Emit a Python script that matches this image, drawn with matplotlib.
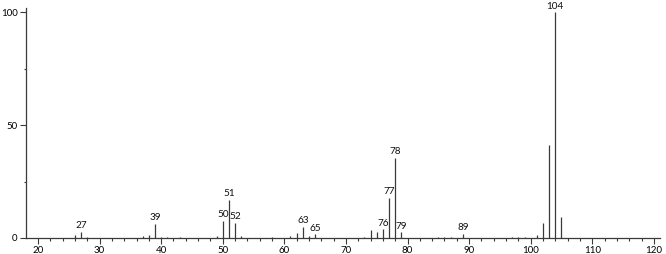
import matplotlib
matplotlib.use("Agg")
import matplotlib.pyplot as plt
from matplotlib.ticker import MultipleLocator

# m/z values and relative intensities
mz = [26, 27, 28, 37, 38, 39, 40, 41, 43, 49, 50, 51, 52, 53, 58, 61, 62, 63, 64, 65,
      73, 74, 75, 76, 77, 78, 79, 85, 86, 87, 89, 97, 98, 99, 101, 102, 103, 104, 105]
intensity = [1.3, 2.8, 0.3, 0.8, 1.2, 6.4, 0.3, 0.3, 0.3, 0.7, 7.5, 17.0, 6.8, 0.8, 0.3,
             0.7, 2.1, 5.0, 1.0, 1.6, 0.6, 3.5, 2.5, 3.8, 17.7, 35.4, 2.5, 0.3, 0.5, 0.4,
             1.8, 0.3, 0.5, 0.3, 1.3, 6.6, 41.0, 100.0, 9.3]

# peaks that get a label above them
labelled = [27, 39, 50, 51, 52, 63, 65, 76, 77, 78, 79, 89, 104]

col = '#3a3a3a'
plt.rcParams['font.family'] = ['Lato', 'DejaVu Sans']

fig = plt.figure(figsize=(6.66, 2.54), dpi=100)
ax = fig.add_axes([0.039, 0.063, 0.952, 0.907])

ax.vlines(mz, 0, intensity, color=col, linewidth=0.9)

for m, h in zip(mz, intensity):
    if m in labelled:
        ax.text(m, h + 0.7, str(m), ha='center', va='bottom', fontsize=7.2, color='#111111')

ax.set_xlim(18.05, 121)
ax.set_ylim(0, 102)

ax.xaxis.set_major_locator(MultipleLocator(10))
ax.xaxis.set_minor_locator(MultipleLocator(2))
ax.yaxis.set_major_locator(MultipleLocator(50))
ax.yaxis.set_minor_locator(MultipleLocator(25))

for side in ['top', 'right']:
    ax.spines[side].set_visible(False)
for side in ['left', 'bottom']:
    ax.spines[side].set_color(col)
    ax.spines[side].set_linewidth(0.9)

ax.tick_params(axis='both', which='major', length=4, width=0.8, color=col,
               labelsize=7, pad=2)
ax.tick_params(axis='both', which='minor', length=2.5, width=0.8, color=col)
ax.tick_params(axis='y', which='minor', length=1.5)

fig.savefig('out.png', dpi=100)
